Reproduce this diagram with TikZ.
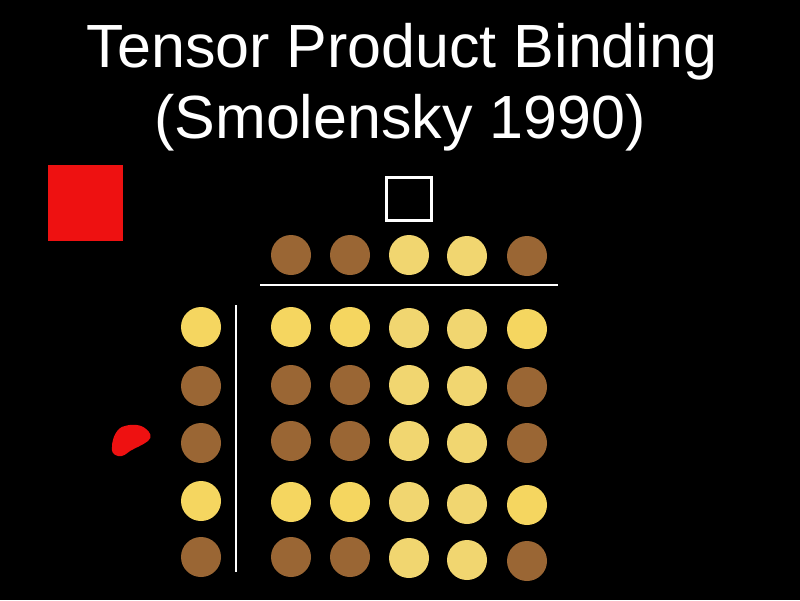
\documentclass[tikz,border=0pt]{standalone}
\usepackage{fontspec}
\setmainfont{Liberation Sans}
\definecolor{dotbrown}{HTML}{9A6634}
\definecolor{dotyellow}{HTML}{F5D660}
\definecolor{dotpale}{HTML}{F1D670}
\definecolor{boxred}{HTML}{EE1111}
\begin{document}
\begin{tikzpicture}[x=1pt,y=-1pt,
  dot/.style={circle,minimum size=40pt,inner sep=0pt},
  br/.style={dot,fill=dotbrown},
  ye/.style={dot,fill=dotyellow},
  pa/.style={dot,fill=dotpale},
  titletext/.style={text=white,font=\fontsize{61}{70}\selectfont,anchor=base,inner sep=0pt},
  rule/.style={white,line width=2.5pt}]
\fill[black] (0,0) rectangle (800,600);
\useasboundingbox (0,0) rectangle (800,600);
\node[titletext] (t1) at (402,67) {Tensor Product Binding};
\node[titletext] (t2) at (400,138) {(Smolensky 1990)};
\node[fill=boxred,minimum width=75pt,minimum height=76pt,inner sep=0pt] (red) at (85.5,203) {};
\node[draw=white,line width=3pt,minimum width=45pt,minimum height=43pt,inner sep=0pt] (sq) at (409,199) {};
% top vector
\node[br] (v1) at (291,255) {};
\node[br] (v2) at (350,255) {};
\node[pa] (v3) at (409,255) {};
\node[pa] (v4) at (467,256) {};
\node[br] (v5) at (527,256) {};
\coordinate (hl) at (260,285);
\coordinate (hr) at (558,285);
\draw[rule] (hl) -- (hr);
% left vector
\node[ye] (u1) at (201,327) {};
\node[br] (u2) at (201,386) {};
\node[br] (u3) at (201,443) {};
\node[ye] (u4) at (201,501) {};
\node[br] (u5) at (201,557) {};
\coordinate (vt) at (236,305);
\coordinate (vb) at (236,572);
\draw[rule] (vt) -- (vb);
% red blob
\fill[boxred] (112,447) .. controls (112,438) and (117,427) .. (125,426)
  .. controls (131,424) and (141,424) .. (146,429)
  .. controls (150,432) and (153,437) .. (148,441)
  .. controls (143,445) and (135,448) .. (130,451)
  .. controls (126,454) and (123,457) .. (118,456)
  .. controls (113,455) and (111,451) .. (112,447) -- cycle;
% grid
\node[ye] (g11) at (291,327) {};
\node[ye] (g12) at (350,327) {};
\node[pa] (g13) at (409,328) {};
\node[pa] (g14) at (467,329) {};
\node[ye] (g15) at (527,329) {};
\node[br] (g21) at (291,385) {};
\node[br] (g22) at (350,385) {};
\node[pa] (g23) at (409,385) {};
\node[pa] (g24) at (467,386) {};
\node[br] (g25) at (527,387) {};
\node[br] (g31) at (291,441) {};
\node[br] (g32) at (350,441) {};
\node[pa] (g33) at (409,441) {};
\node[pa] (g34) at (467,443) {};
\node[br] (g35) at (527,443) {};
\node[ye] (g41) at (291,502) {};
\node[ye] (g42) at (350,502) {};
\node[pa] (g43) at (409,502) {};
\node[pa] (g44) at (467,504) {};
\node[ye] (g45) at (527,505) {};
\node[br] (g51) at (291,557) {};
\node[br] (g52) at (350,557) {};
\node[pa] (g53) at (409,558) {};
\node[pa] (g54) at (467,560) {};
\node[br] (g55) at (527,561) {};
\end{tikzpicture}
\end{document}
